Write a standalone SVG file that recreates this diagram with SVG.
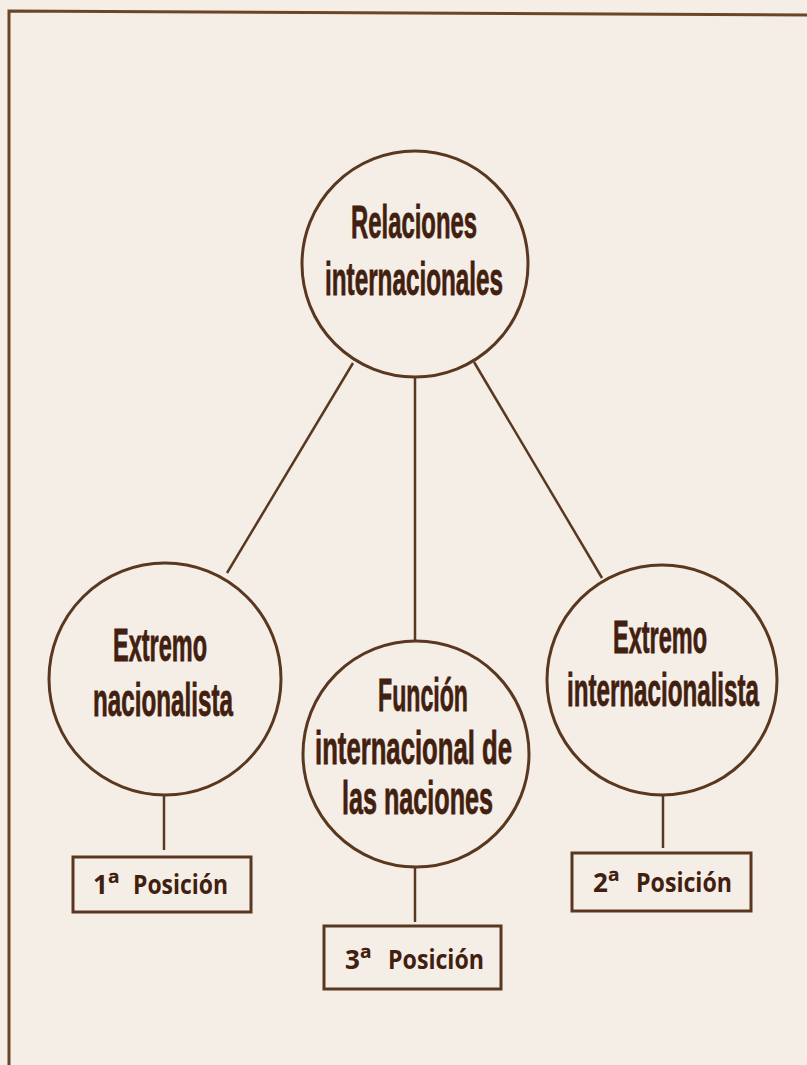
<svg xmlns="http://www.w3.org/2000/svg" width="807" height="1065" viewBox="0 0 807 1065">
<style>
.bg{fill:#f5eee7}
.frame{stroke:#6a4526;stroke-width:3;fill:none}
.node{fill:none;stroke:#5a3820;stroke-width:3}
.edge{stroke:#5a3820;stroke-width:2.5;fill:none}
.box{fill:none;stroke:#5a3820;stroke-width:3}
.ct{font-family:"Liberation Sans",Arial,sans-serif;font-weight:bold;font-size:46px;fill:#42200f;stroke:#42200f;stroke-width:0.8}
.bt{font-family:"Open Sans","Noto Sans",sans-serif;font-weight:bold;font-size:26px;fill:#42200f}
.sup{font-size:30px}
</style>
<rect class="bg" x="0" y="0" width="807" height="1065"/>
<path class="frame" d="M9,1065 L9,11 L807,15"/>
<g id="connectors">
<line class="edge" x1="353" y1="363" x2="227" y2="573"/>
<line class="edge" x1="415" y1="377" x2="415" y2="641"/>
<line class="edge" x1="474" y1="362" x2="602" y2="578"/>
<line class="edge" x1="164" y1="795" x2="164" y2="850"/>
<line class="edge" x1="415" y1="867" x2="415" y2="922"/>
<line class="edge" x1="663" y1="795" x2="663" y2="848"/>
</g>
<g id="n-relaciones">
<circle class="node" cx="415" cy="264" r="113"/>
<text class="ct" x="351" y="238" textLength="126" lengthAdjust="spacingAndGlyphs">Relaciones</text>
<text class="ct" x="325" y="295" textLength="178" lengthAdjust="spacingAndGlyphs">internacionales</text>
</g>
<g id="n-nacionalista">
<circle class="node" cx="165" cy="679" r="116"/>
<text class="ct" x="113" y="661" textLength="94" lengthAdjust="spacingAndGlyphs">Extremo</text>
<text class="ct" x="93" y="716" textLength="140" lengthAdjust="spacingAndGlyphs">nacionalista</text>
</g>
<g id="n-funcion">
<circle class="node" cx="416" cy="754" r="113"/>
<text class="ct" x="378" y="711" textLength="90" lengthAdjust="spacingAndGlyphs">Función</text>
<text class="ct" x="315" y="764" textLength="197" lengthAdjust="spacingAndGlyphs">internacional de</text>
<text class="ct" x="342" y="814" textLength="151" lengthAdjust="spacingAndGlyphs">las naciones</text>
</g>
<g id="n-internacionalista">
<circle class="node" cx="662" cy="680" r="115"/>
<text class="ct" x="613" y="653" textLength="94" lengthAdjust="spacingAndGlyphs">Extremo</text>
<text class="ct" x="567" y="706" textLength="192" lengthAdjust="spacingAndGlyphs">internacionalista</text>
</g>
<g id="b-pos1">
<rect class="box" x="73" y="857" width="178" height="55"/>
<text class="bt" y="894"><tspan x="93">1</tspan><tspan class="sup">ª</tspan><tspan x="133" textLength="95" lengthAdjust="spacingAndGlyphs">Posición</tspan></text>
</g>
<g id="b-pos2">
<rect class="box" x="572" y="853" width="179" height="58"/>
<text class="bt" y="892"><tspan x="593">2</tspan><tspan class="sup">ª</tspan><tspan x="636" textLength="96" lengthAdjust="spacingAndGlyphs">Posición</tspan></text>
</g>
<g id="b-pos3">
<rect class="box" x="324" y="926" width="177" height="63"/>
<text class="bt" y="969"><tspan x="345">3</tspan><tspan class="sup">ª</tspan><tspan x="388" textLength="96" lengthAdjust="spacingAndGlyphs">Posición</tspan></text>
</g>
</svg>
